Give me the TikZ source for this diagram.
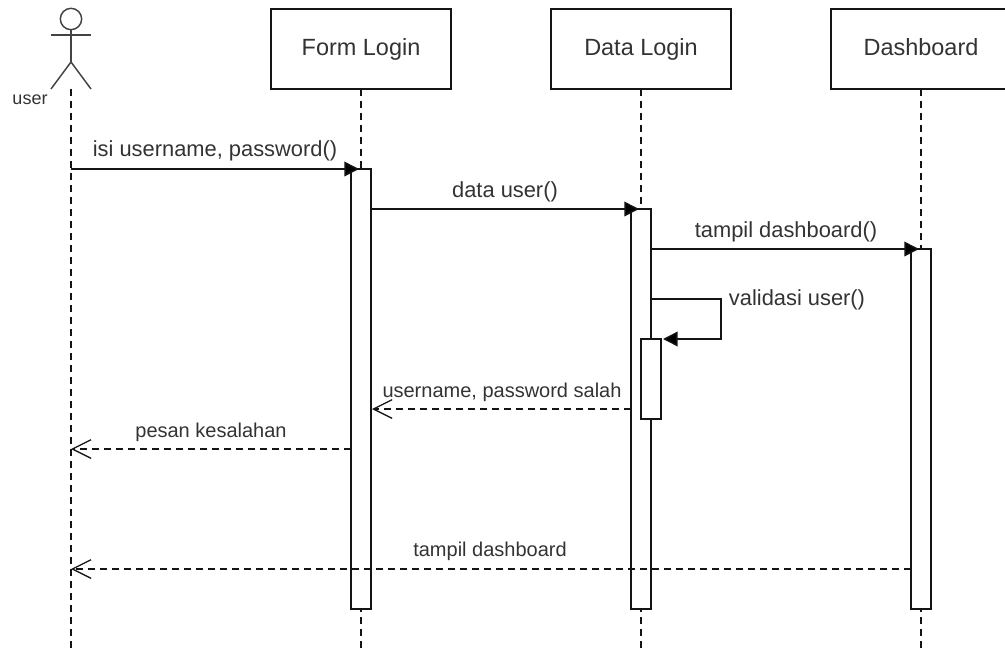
\documentclass[tikz,border=0pt]{standalone}
\usepackage{fontspec}
\setmainfont{Liberation Sans}
\usetikzlibrary{arrows.meta}
\definecolor{ink}{gray}{0.08}
\definecolor{txt}{gray}{0.2}
\tikzset{
  x=0.75pt,y=-0.75pt,
  every node/.style={inner sep=0pt,outer sep=0pt,text=txt},
  head/.style={draw=ink,line width=1.1pt,fill=white,minimum width=135pt,minimum height=60pt,font=\fontsize{17.6}{20}\selectfont,text height=13pt,text depth=3.5pt},
  activation/.style={draw=ink,line width=1.1pt,fill=white,minimum width=15pt},
  lifeline/.style={draw=ink,line width=1pt,dash pattern=on 5pt off 4pt},
  msg/.style={draw=ink,line width=1.1pt,-{Triangle[length=11pt,width=11pt,fill=black]}},
  ret/.style={draw=ink,line width=0.95pt,dash pattern=on 5.5pt off 3.5pt,-{Straight Barb[length=14pt,width=14pt,line width=0.95pt]}},
  big/.style={font=\fontsize{16.4}{19}\selectfont},
  small/.style={font=\fontsize{15}{18}\selectfont},
  actorline/.style={draw=ink!80,line width=1.1pt}
}
\begin{document}
\begin{tikzpicture}
\useasboundingbox (0,0) rectangle (1005,649);
% anchors
\coordinate (uTop) at (71,89);
\coordinate (uBot) at (71,649);
\coordinate (aTop) at (361,89);
\coordinate (aBot) at (361,649);
\coordinate (bTop) at (641,89);
\coordinate (bBot) at (641,649);
\coordinate (cTop) at (921,89);
\coordinate (cBot) at (921,649);
% lifelines
\draw[lifeline] (uTop) -- (uBot);
\draw[lifeline] (aTop) -- (aBot);
\draw[lifeline] (bTop) -- (bBot);
\draw[lifeline] (cTop) -- (cBot);
% heads
\node[head] (formlogin) at (361,49) {Form Login};
\node[head] (datalogin) at (641,49) {Data Login};
\node[head] (dashboard) at (921,49) {Dashboard};
% actor
\node[draw=ink!80,line width=1.1pt,circle,minimum size=16pt] (head) at (71,19) {};
\coordinate (hip) at (71,62);
\coordinate (armL) at (51,35);
\coordinate (armR) at (91,35);
\coordinate (legL) at (51,89);
\coordinate (legR) at (91,89);
\draw[actorline] (head.south) -- (hip);
\draw[actorline] (armL) -- (armR);
\draw[actorline] (legL) -- (hip) -- (legR);
\node[font=\fontsize{13.5}{16}\selectfont] (userlabel) at (30,100) {user};
% activations
\node[activation,minimum height=330pt] (actA) at (361,389) {};
\node[activation,minimum height=300pt] (actB) at (641,409) {};
\node[activation,minimum height=270pt] (actC) at (921,429) {};
\node[activation,minimum height=60pt] (actD) at (651,379) {};
% messages
\coordinate (m1s) at (71,169);
\coordinate (m1e) at (359,169);
\draw[msg] (m1s) -- (m1e);
\coordinate (m2s) at (371,209);
\coordinate (m2e) at (639,209);
\draw[msg] (m2s) -- (m2e);
\coordinate (m3s) at (651,249);
\coordinate (m3e) at (919,249);
\draw[msg] (m3s) -- (m3e);
\coordinate (s1) at (651,299);
\coordinate (s2) at (721,299);
\coordinate (s3) at (721,339);
\coordinate (s4) at (663,339);
\draw[msg] (s1) -- (s2) -- (s3) -- (s4);
\coordinate (r1s) at (631,409);
\coordinate (r1e) at (372,409);
\draw[ret] (r1s) -- (r1e);
\coordinate (r2s) at (351,449);
\coordinate (r2e) at (71,449);
\draw[ret] (r2s) -- (r2e);
\coordinate (r3s) at (911,569);
\coordinate (r3e) at (71,569);
\draw[ret] (r3s) -- (r3e);
% labels
\node[big] (l1) at (215,151) {isi username, password()};
\node[big] (l2) at (505,192) {data user()};
\node[big] (l3) at (786,232) {tampil dashboard()};
\node[big] (l4) at (797,300) {validasi user()};
\node[small] (l5) at (502,392) {username, password salah};
\node[small] (l6) at (211,432) {pesan kesalahan};
\node[small] (l7) at (490,551) {tampil dashboard};
\end{tikzpicture}
\end{document}
